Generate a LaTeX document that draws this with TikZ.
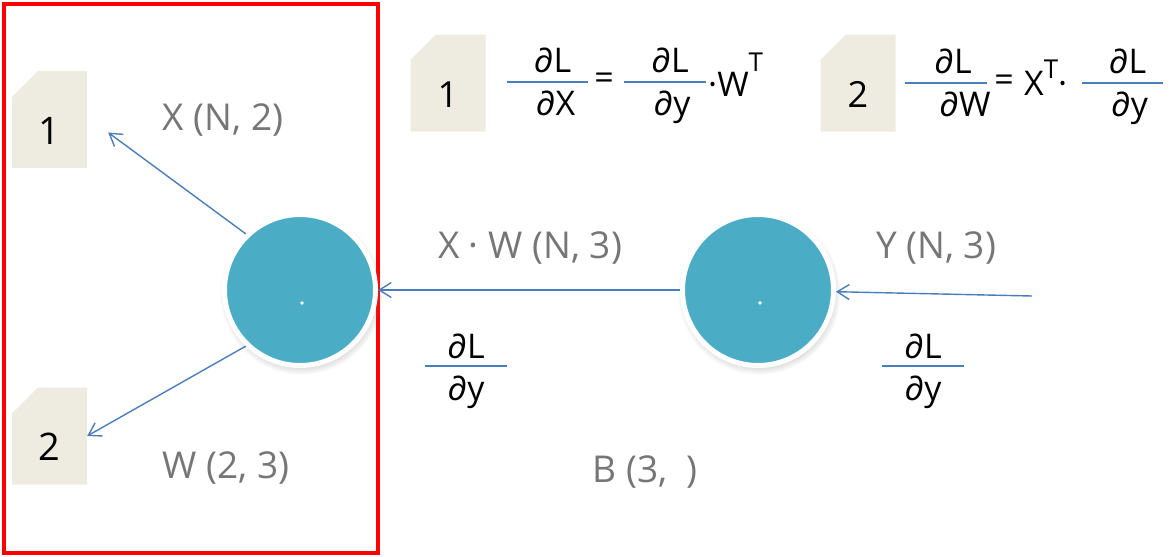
\documentclass[tikz,border=0pt]{standalone}
\usepackage{fontspec}
\setmainfont{Open Sans}
\usepackage{tikz}
\usetikzlibrary{arrows.meta, positioning, shapes.misc, shadows}
\definecolor{notefill}{HTML}{EEECE1}
\definecolor{linkblue}{HTML}{4A7EBB}
\definecolor{ballfill}{HTML}{4BACC6}
\definecolor{dimgray}{HTML}{767676}
\tikzstyle{note} = [chamfered rectangle, chamfered rectangle corners=north west,
    chamfered rectangle xsep=15pt, chamfered rectangle ysep=20pt, fill=notefill,
    minimum width=75pt, minimum height=97pt, inner sep=0pt,
    text height=49pt, text depth=0pt]
\tikzstyle{ball} = [circle, fill=ballfill, draw=white, line width=5pt,
    minimum size=151pt, inner sep=0pt,
    circular drop shadow={shadow scale=1.08, shadow xshift=1pt,
    shadow yshift=-3pt, opacity=0.4}]
\tikzstyle{link} = [-{Straight Barb[length=12pt, width=15pt]}, linkblue,
    line width=1.4pt]
\tikzstyle{dimtext} = [dimgray, font=\fontsize{37}{40}\selectfont]
\tikzstyle{bar} = [rectangle, fill=linkblue, minimum height=1.6pt, inner sep=0pt]
\tikzstyle{frac} = [inner sep=0pt, font=\fontsize{34}{36}\selectfont]

\begin{document}
\begin{tikzpicture}[x=1pt, y=-1pt]
    \useasboundingbox (0,0) rectangle (1176,557);

    % Frame round the dot node
    \draw [red, line width=4pt] (3.5,3.5) rectangle (378,552.5);

    % Place the nodes
    \node [ball] (dotnode) at (300,290) {};
    \node [ball] (addnode) at (758,290) {};
    \fill [white] (302,303) circle (1.8pt);
    \fill [white] (760,303) circle (1.8pt);
    \node [note, font=\fontsize{38}{40}\selectfont] (nx) at (49.5,119.5) {1};
    \node [note, font=\fontsize{38}{40}\selectfont] (nw) at (49.5,436) {2};
    \coordinate (yin) at (1032,296);

    % Shapes of the data
    \node [dimtext] (lx) at (223,120) {X (N, 2)};
    \node [dimtext] (lw) at (226,468) {W (2, 3)};
    \node [dimtext] (lxw) at (530,248) {X · W (N, 3)};
    \node [dimtext] (ly) at (936,248) {Y (N, 3)};
    \node [dimtext] (lb) at (645,472) {B (3,~~)};

    % Incoming gradients
    \node [bar, minimum width=82pt] (barl) at (466,366) {};
    \node [frac, above=6pt of barl] (barlnum) {∂L};
    \node [frac, below=9pt of barl] (barlden) {∂y};
    \node [bar, minimum width=82pt] (barr) at (923,366) {};
    \node [frac, above=6pt of barr] (barrnum) {∂L};
    \node [frac, below=9pt of barr] (barrden) {∂y};

    % Formula 1
    \node [note, font=\fontsize{36}{38}\selectfont] (gx) at (448,83) {1};
    \node [bar, minimum width=81pt] (bara) at (547.5,82) {};
    \node [frac, above=8pt of bara, xshift=5pt] (anum) {∂L};
    \node [frac, below=8pt of bara, xshift=8pt] (aden) {∂X};
    \node [frac] (aeq) at (604,81) {=};
    \node [bar, minimum width=82pt] (barb) at (665,82) {};
    \node [frac, above=8pt of barb, xshift=5pt] (bnum) {∂L};
    \node [frac, below=8pt of barb, xshift=7pt] (bden) {∂y};
    \node [frac, anchor=base west] (awt) at (708,96)
        {·W\raisebox{0.72em}{\fontsize{26}{26}\selectfont T}};

    % Formula 2
    \node [note, font=\fontsize{36}{38}\selectfont] (gw) at (858,83) {2};
    \node [bar, minimum width=82pt] (barc) at (946,83) {};
    \node [frac, above=8pt of barc, xshift=7pt] (cnum) {∂L};
    \node [frac, below=8pt of barc, xshift=19pt] (cden) {∂W};
    \node [frac] (ceq) at (1004,83) {=};
    \node [frac, anchor=base west] (cxt) at (1024,95)
        {X\raisebox{0.5em}{\fontsize{26}{26}\selectfont T}·};
    \node [bar, minimum width=81pt] (bard) at (1122.5,83) {};
    \node [frac, above=8pt of bard, xshift=5pt] (dnum) {∂L};
    \node [frac, below=8pt of bard, xshift=7pt] (dden) {∂y};

    % Connect the nodes
    \draw [link] (dotnode.134) -- ([xshift=21pt, yshift=-13pt]nx.east);
    \draw [link] (dotnode.226) -- (nw.east);
    \draw [link] (addnode) -- (dotnode);
    \draw [link] (yin) -- (addnode);
\end{tikzpicture}
\end{document}
